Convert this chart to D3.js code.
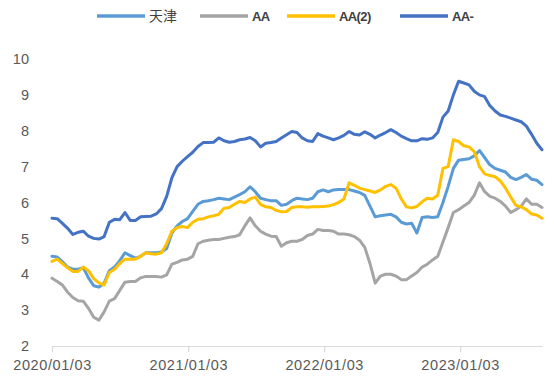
<!DOCTYPE html>
<html>
<head>
<meta charset="utf-8">
<script src="https://cdn.jsdelivr.net/npm/d3@7"></script>
<style>
  body { margin: 0; background: #fff; }
  svg text { font-family: "Liberation Sans", Arial, sans-serif; fill: #595959; }
  .legend text { font-family: "Liberation Sans Narrow", "Liberation Sans", sans-serif; font-size: 13px; font-weight: bold; letter-spacing: -0.6px; fill: #404040; }
  .legend text.cjk { font-family: "Noto Sans CJK SC", sans-serif; font-size: 14px; font-weight: normal; letter-spacing: 0; }
</style>
</head>
<body>
<svg id="chart" width="554" height="386"></svg>
<script>
// biweekly observations starting 2020/01/03
const startDate = '2020-01-03';
const stepDays = 14;

const tianjin = [4.50, 4.48, 4.35, 4.20, 4.14, 4.14, 4.18, 3.90, 3.68, 3.64,
  3.75, 4.10, 4.20, 4.38, 4.60, 4.52, 4.45, 4.50, 4.60, 4.60,
  4.60, 4.62, 4.72, 5.15, 5.35, 5.47, 5.55, 5.75, 5.95, 6.03,
  6.05, 6.08, 6.12, 6.10, 6.08, 6.15, 6.22, 6.30, 6.44, 6.30,
  6.12, 6.08, 6.05, 6.05, 5.92, 5.95, 6.05, 6.12, 6.10, 6.08,
  6.12, 6.30, 6.35, 6.30, 6.35, 6.36, 6.36, 6.36, 6.32, 6.28,
  6.20, 5.90, 5.60, 5.63, 5.65, 5.67, 5.60, 5.45, 5.40, 5.42,
  5.15, 5.58, 5.60, 5.58, 5.60, 6.00, 6.45, 6.95, 7.18, 7.20,
  7.22, 7.30, 7.45, 7.25, 7.05, 6.95, 6.90, 6.85, 6.70, 6.64,
  6.70, 6.78, 6.65, 6.62, 6.50];

const aa = [3.89, 3.80, 3.70, 3.50, 3.35, 3.26, 3.25, 3.05, 2.80, 2.72,
  2.95, 3.25, 3.32, 3.55, 3.78, 3.80, 3.80, 3.90, 3.94, 3.94,
  3.94, 3.92, 3.98, 4.28, 4.33, 4.40, 4.42, 4.50, 4.85, 4.92,
  4.95, 4.97, 4.97, 5.00, 5.03, 5.05, 5.10, 5.35, 5.57, 5.35,
  5.20, 5.12, 5.06, 5.05, 4.78, 4.88, 4.92, 4.92, 4.97, 5.08,
  5.12, 5.25, 5.22, 5.22, 5.20, 5.12, 5.12, 5.10, 5.05, 4.95,
  4.75, 4.30, 3.75, 3.95, 4.00, 4.00, 3.95, 3.85, 3.85, 3.95,
  4.05, 4.20, 4.28, 4.40, 4.50, 4.90, 5.30, 5.72, 5.80, 5.90,
  6.00, 6.20, 6.55, 6.30, 6.17, 6.12, 6.03, 5.90, 5.72, 5.80,
  5.90, 6.10, 5.95, 5.95, 5.86];

const aa2 = [4.36, 4.42, 4.30, 4.18, 4.08, 4.08, 4.20, 4.10, 3.88, 3.76,
  3.70, 4.05, 4.14, 4.30, 4.42, 4.42, 4.42, 4.50, 4.60, 4.57,
  4.56, 4.60, 4.85, 5.20, 5.30, 5.33, 5.30, 5.45, 5.53, 5.55,
  5.60, 5.63, 5.67, 5.84, 5.86, 5.95, 6.03, 6.00, 6.10, 6.15,
  5.95, 5.88, 5.86, 5.78, 5.74, 5.75, 5.86, 5.88, 5.88, 5.87,
  5.88, 5.88, 5.89, 5.90, 5.94, 6.00, 6.10, 6.55, 6.48, 6.40,
  6.36, 6.32, 6.28, 6.35, 6.45, 6.50, 6.40, 6.10, 5.88, 5.85,
  5.89, 6.02, 6.12, 6.10, 6.20, 6.95, 7.00, 7.75, 7.70, 7.58,
  7.55, 7.42, 7.00, 6.80, 6.75, 6.72, 6.60, 6.40, 6.15, 5.92,
  5.88, 5.80, 5.68, 5.65, 5.56];

const aaMinus = [5.56, 5.55, 5.42, 5.28, 5.11, 5.17, 5.20, 5.06, 5.00, 4.98,
  5.05, 5.45, 5.53, 5.52, 5.72, 5.50, 5.50, 5.60, 5.61, 5.62,
  5.68, 5.83, 6.17, 6.69, 7.00, 7.15, 7.28, 7.40, 7.56, 7.67,
  7.67, 7.68, 7.80, 7.72, 7.68, 7.70, 7.75, 7.77, 7.81, 7.72,
  7.55, 7.65, 7.67, 7.70, 7.80, 7.89, 7.98, 7.95, 7.80, 7.72,
  7.70, 7.92, 7.85, 7.80, 7.75, 7.80, 7.87, 7.98, 7.90, 7.88,
  7.97, 7.90, 7.80, 7.88, 7.95, 8.03, 7.95, 7.85, 7.78, 7.72,
  7.72, 7.78, 7.76, 7.80, 7.95, 8.38, 8.55, 9.00, 9.38, 9.33,
  9.28, 9.10, 9.00, 8.95, 8.70, 8.55, 8.44, 8.40, 8.35, 8.30,
  8.25, 8.13, 7.90, 7.65, 7.47];

const seriesNames = ['天津', 'AA', 'AA(2)', 'AA-'];
const seriesColors = ['#5b9bd5', '#a5a5a5', '#ffc000', '#4472c4'];
const yTicks = [2, 3, 4, 5, 6, 7, 8, 9, 10];
const xTickLabels = ['2020/01/03', '2021/01/03', '2022/01/03', '2023/01/03'];

const parse = d3.timeParse('%Y/%m/%d');
const dates = tianjin.map((_, i) => d3.timeDay.offset(d3.timeParse('%Y-%m-%d')(startDate), i * stepDays));
const seriesValues = [tianjin, aa, aa2, aaMinus];

const svg = d3.select('#chart');
const margin = { top: 59, left: 52, right: 12, bottom: 40 };
const width = 554 - margin.left - margin.right;
const height = 386 - margin.top - margin.bottom;

const x = d3.scaleTime()
  .domain([dates[0], dates[dates.length - 1]])
  .range([0, width]);
const y = d3.scaleLinear()
  .domain([2, 10])
  .range([height, 0]);

const chart = svg.append('g')
  .attr('transform', `translate(${margin.left},${margin.top})`);

// x axis
const xAxis = d3.axisBottom(x)
  .tickValues(xTickLabels.map(parse))
  .tickFormat(d3.timeFormat('%Y/%m/%d'))
  .tickSize(6)
  .tickSizeOuter(0)
  .tickPadding(8);
const xAxisG = chart.append('g')
  .attr('transform', `translate(0,${height})`)
  .call(xAxis);
xAxisG.select('.domain').attr('stroke', '#d9d9d9').attr('stroke-width', 1.2);
xAxisG.selectAll('.tick line').attr('stroke', '#d9d9d9').attr('stroke-width', 1.2);
xAxisG.selectAll('.tick text')
  .style('font-size', '14.5px')
  .style('letter-spacing', '0.6px')
  .attr('fill', '#4d4d4d');

// y axis (labels only)
const yAxis = d3.axisLeft(y)
  .tickValues(yTicks)
  .tickSize(0)
  .tickPadding(23);
const yAxisG = chart.append('g').call(yAxis);
yAxisG.select('.domain').remove();
yAxisG.selectAll('.tick text')
  .style('font-size', '14.5px')
  .attr('fill', '#4d4d4d');

// lines
const line = d3.line()
  .x((d, i) => x(dates[i]))
  .y(d => y(d));

seriesValues.forEach((vals, k) => {
  chart.append('path')
    .datum(vals)
    .attr('fill', 'none')
    .attr('stroke', seriesColors[k])
    .attr('stroke-width', 3)
    .attr('stroke-linejoin', 'round')
    .attr('stroke-linecap', 'round')
    .attr('d', line);
});

// legend
const legendX = [97, 200, 287, 400];
const legend = svg.append('g').attr('class', 'legend');
seriesNames.forEach((name, k) => {
  const g = legend.append('g').attr('transform', `translate(${legendX[k]},16)`);
  g.append('line')
    .attr('x1', 0).attr('x2', 48)
    .attr('stroke', seriesColors[k])
    .attr('stroke-width', 3.5);
  g.append('text')
    .attr('class', k === 0 ? 'cjk' : null)
    .attr('x', 52)
    .attr('dy', '0.35em')
    .text(name);
});
</script>
</body>
</html>
